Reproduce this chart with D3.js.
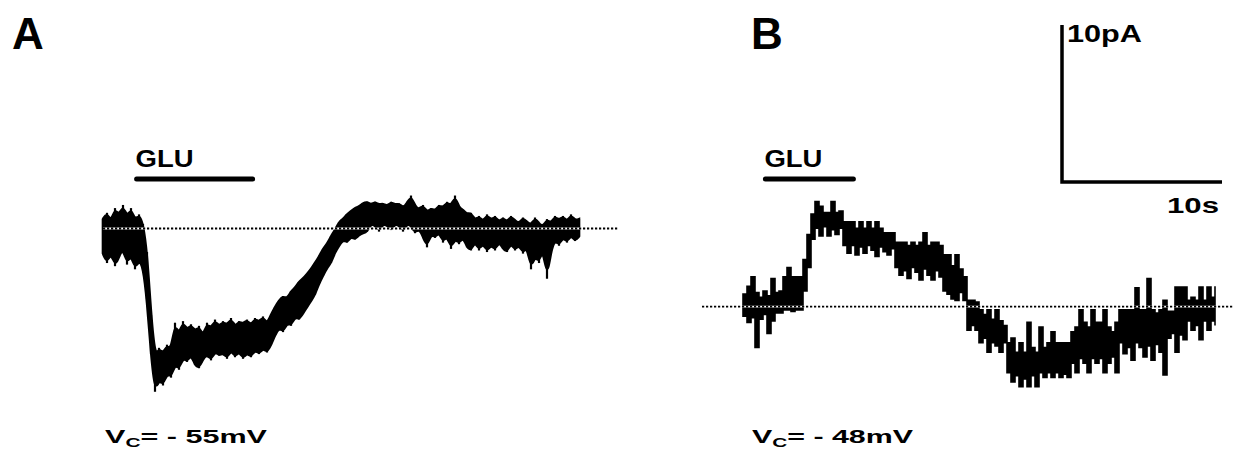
<!DOCTYPE html>
<html>
<head>
<meta charset="utf-8">
<script src="https://cdnjs.cloudflare.com/ajax/libs/d3/7.8.5/d3.min.js"></script>
<style>
  body { margin: 0; background: #fff; }
  text { font-family: "Liberation Sans", Arial, sans-serif; font-weight: bold; fill: #000; }
</style>
</head>
<body>
<script>
// sampling step of the traces (s)
var DT = 0.25;

// panel A, Vc = -55 mV : upper / lower edge of the noisy trace (pA), one value per 0.25 s
var traceA_hi = [0.6, 1.0, 0.4, 1.3, 0.8, 1.5, 0.7, 1.3, 0.5, 0.9,
  0.3, -1.5, -5.5, -8.2, -7.6, -8.0, -7.4, -7.8, -6.0, -6.8,
  -5.9, -6.5, -6.1, -6.6, -6.2, -6.9, -6.0, -6.4, -5.8, -6.3,
  -5.9, -6.2, -5.7, -6.3, -5.9, -6.1, -5.8, -6.2, -5.7, -6.0,
  -5.6, -6.1, -5.5, -5.0, -4.6, -4.3, -4.5, -4.0, -3.8, -3.4,
  -3.2, -2.9, -2.6, -2.2, -1.8, -1.3, -1.0, -0.5, -0.1, 0.4,
  0.6, 0.9, 1.1, 1.3, 1.4, 1.6, 1.7, 1.5, 1.7, 1.5,
  1.6, 1.4, 1.7, 1.5, 1.6, 1.3, 1.6, 2.1, 1.4, 1.2,
  1.5, 1.0, 1.3, 1.1, 1.5, 1.3, 1.7, 1.4, 2.1, 1.3,
  1.2, 0.9, 1.0, 0.5, 0.8, 0.4, 0.9, 0.5, 0.8, 0.4,
  0.7, 0.4, 0.8, 0.5, 0.3, 0.7, 0.4, 0.2, 0.7, 0.3,
  0.1, 0.6, 0.3, 0.8, 0.5, 0.8, 0.4, 0.9, 0.5, 0.6];
var traceA_lo = [-1.6, -2.2, -1.5, -2.4, -1.8, -1.2, -2.3, -1.6, -2.6, -2.0,
  -2.4, -4.5, -8.0, -10.4, -9.6, -10.0, -9.2, -9.5, -8.6, -9.0,
  -8.2, -8.5, -8.0, -8.7, -8.9, -8.3, -8.0, -8.4, -7.8, -8.1,
  -7.9, -8.3, -7.7, -8.2, -7.8, -8.3, -7.9, -8.2, -7.7, -8.0,
  -7.6, -7.9, -7.4, -6.8, -6.3, -6.6, -6.0, -6.2, -5.6, -5.8,
  -5.4, -5.0, -4.6, -4.2, -3.5, -3.0, -2.5, -2.2, -1.5, -1.1,
  -0.7, -0.9, -0.5, -0.7, -0.4, -0.3, -0.2, 0.3, 0.2, -0.2,
  0.3, 0.2, -0.1, 0.3, 0.2, -0.2, 0.3, 0.2, -0.3, 0.0,
  -0.5, -1.2, -0.3, -0.6, -0.2, -0.9, -0.4, -1.3, -0.6, -1.0,
  -0.5, -1.2, -1.4, -0.8, -1.4, -0.9, -1.5, -1.0, -1.4, -0.8,
  -1.3, -1.5, -0.9, -1.4, -1.0, -1.6, -1.1, -2.6, -1.7, -2.2,
  -1.2, -3.2, -1.4, -0.7, -1.1, -0.5, -0.9, -0.4, -0.8, -0.5];

// panel B, Vc = -48 mV
var traceB_hi = [0.8, 1.3, 1.9, 0.9, 0.6, 1.0, 0.7, 1.8, 0.9, 1.0,
  1.9, 2.5, 1.9, 1.9, 1.9, 3.0, 4.6, 5.9, 6.7, 6.4,
  6.0, 6.0, 6.7, 6.0, 6.1, 5.4, 5.4, 5.4, 5.0, 5.4,
  5.0, 5.4, 5.0, 5.4, 5.0, 4.7, 4.7, 4.7, 4.1, 4.1,
  4.1, 3.9, 4.1, 3.9, 4.1, 4.7, 3.9, 4.1, 4.1, 3.9,
  3.3, 3.3, 2.6, 3.3, 2.4, 1.9, 0.4, 0.4, 0.3, -0.2,
  -0.5, -0.2, -0.8, -0.2, -0.9, -1.2, -2.3, -2.0, -2.9, -2.3,
  -2.9, -1.0, -2.6, -2.9, -1.3, -2.6, -2.3, -1.6, -2.3, -2.3,
  -2.3, -2.3, -1.6, -1.3, -0.2, -1.0, -1.3, -0.2, -1.0, -1.0,
  -0.2, -1.3, -1.6, -1.0, -0.2, -0.2, -0.2, -0.2, 1.2, -0.2,
  -0.2, 1.8, -0.2, -0.4, -0.2, 0.4, -0.3, -0.3, 1.25, 1.25,
  1.25, 0.4, 0.6, 0.4, 1.25, 0.4, 1.25, 0.6, 1.3];
var traceB_lo = [-0.6, -1.0, -0.7, -2.6, -0.8, -0.5, -1.7, -0.9, -0.4, -0.4,
  -0.2, -0.2, -0.3, -0.2, -0.2, 1.0, 2.5, 4.3, 5.0, 4.5,
  5.1, 4.5, 4.9, 4.6, 5.0, 3.9, 3.4, 3.9, 3.3, 3.8,
  3.4, 3.9, 3.6, 3.2, 3.8, 3.5, 3.3, 3.7, 2.5, 2.0,
  2.3, 1.8, 2.5, 2.2, 1.7, 2.4, 2.0, 1.7, 2.3, 1.9,
  1.0, 0.8, 0.5, 0.4, 0.9, 0.4, -1.5, -1.2, -1.5, -2.3,
  -2.0, -2.9, -2.3, -2.5, -2.9, -2.3, -4.2, -4.8, -4.4, -5.1,
  -4.6, -5.1, -4.4, -5.1, -4.2, -4.5, -4.2, -4.5, -4.2, -4.5,
  -4.3, -4.5, -3.6, -4.2, -3.3, -3.6, -4.2, -3.3, -3.6, -3.3,
  -4.2, -3.6, -3.2, -4.2, -2.3, -3.0, -2.6, -3.4, -2.3, -2.6,
  -3.2, -2.5, -3.4, -2.4, -2.9, -4.35, -2.0, -1.7, -2.9, -1.8,
  -2.1, -0.9, -1.5, -1.2, -2.1, -0.9, -1.5, -0.9, -1.2];

// glutamate application (s from trace start)
var gluA = [2.1, 9.35];
var gluB = [1.4, 6.9];

var labels = ["A", "B"];
var vcValues = ["- 55mV", "- 48mV"];
var scaleBar = { amp: 10, time: 10, ampLabel: "10pA", timeLabel: "10s" };

var width = 1233, height = 455;
var PX_S = 16, PX_PA = 15.7;

var svg = d3.select("body").append("svg")
  .attr("width", width)
  .attr("height", height);

function panel(hi, lo, x0, y0, dotFrom, dotTo, glu, stepped) {
  var x = d3.scaleLinear().domain([0, 10]).range([x0, x0 + 10 * PX_S]);
  var y = d3.scaleLinear().domain([0, 10]).range([y0, y0 - 10 * PX_PA]);

  var pts = hi.map(function(h, i) { return { t: i * DT, hi: h, lo: lo[i] }; });

  var area = d3.area()
    .x(function(d) { return x(d.t); })
    .y0(function(d) { return y(d.lo); })
    .y1(function(d) { return y(d.hi); });

  if (stepped) {
    svg.append("path")
      .datum(pts)
      .attr("d", area.curve(d3.curveStepAfter))
      .attr("fill", "#000")
      .attr("stroke", "#000")
      .attr("stroke-width", 1.6);
  } else {
    // smooth core band + one thin spike per sample
    svg.append("path")
      .datum(pts)
      .attr("d", area.curve(d3.curveBasis))
      .attr("fill", "#000")
      .attr("stroke", "#000")
      .attr("stroke-width", 2.5);
    svg.append("g").selectAll("line")
      .data(pts)
      .join("line")
      .attr("x1", function(d) { return x(d.t); })
      .attr("x2", function(d) { return x(d.t); })
      .attr("y1", function(d) { return y(d.lo); })
      .attr("y2", function(d) { return y(d.hi); })
      .attr("stroke", "#000")
      .attr("stroke-width", 2.2);
  }

  // dotted zero line: white under, black dots over
  svg.append("line")
    .attr("x1", dotFrom).attr("x2", dotTo)
    .attr("y1", y(0)).attr("y2", y(0))
    .attr("stroke", "#fff").attr("stroke-width", 1.8);
  svg.append("line")
    .attr("x1", dotFrom).attr("x2", dotTo)
    .attr("y1", y(0)).attr("y2", y(0))
    .attr("stroke", "#000").attr("stroke-width", 1.8)
    .attr("stroke-dasharray", "2.2,1.8");

  // GLU bar
  svg.append("line")
    .attr("x1", x(glu[0])).attr("x2", x(glu[1]))
    .attr("y1", 179).attr("y2", 179)
    .attr("stroke", "#000").attr("stroke-width", 5)
    .attr("stroke-linecap", "round");
  svg.append("text")
    .attr("x", x(glu[0]) - 1).attr("y", 167)
    .attr("font-size", 23)
    .attr("textLength", 58).attr("lengthAdjust", "spacingAndGlyphs")
    .text("GLU");

  return { x: x, y: y };
}

var pA = panel(traceA_hi, traceA_lo, 103, 228.5, 103, 618, gluA, false);
var pB = panel(traceB_hi, traceB_lo, 743, 306.7, 702, 1233, gluB, true);

// panel letters
svg.append("text").attr("x", 12).attr("y", 49).attr("font-size", 44).text(labels[0]);
svg.append("text").attr("x", 751).attr("y", 49).attr("font-size", 44).text(labels[1]);

// holding potential labels
[[105, 162], [752, 161]].forEach(function(p, i) {
  var t = svg.append("text").attr("x", p[0]).attr("y", 443).attr("font-size", 19)
    .attr("textLength", p[1]).attr("lengthAdjust", "spacingAndGlyphs");
  t.append("tspan").text("V");
  t.append("tspan").attr("font-size", 13).attr("dy", 4).text("C");
  t.append("tspan").attr("dy", -4).text("= " + vcValues[i]);
});

// scale bar (uses panel B scales)
var sbX = 1062, sbY = 182;
var ampLen = pB.y(0) - pB.y(scaleBar.amp);
var timeLen = pB.x(scaleBar.time) - pB.x(0);
svg.append("path")
  .attr("d", "M" + sbX + "," + (sbY - ampLen) + "V" + sbY + "H" + (sbX + timeLen))
  .attr("fill", "none").attr("stroke", "#000").attr("stroke-width", 3.5);
svg.append("text").attr("x", 1067).attr("y", 42).attr("font-size", 23)
  .attr("textLength", 75).attr("lengthAdjust", "spacingAndGlyphs").text(scaleBar.ampLabel);
svg.append("text").attr("x", 1167).attr("y", 213).attr("font-size", 22)
  .attr("textLength", 52).attr("lengthAdjust", "spacingAndGlyphs").text(scaleBar.timeLabel);
</script>
</body>
</html>
